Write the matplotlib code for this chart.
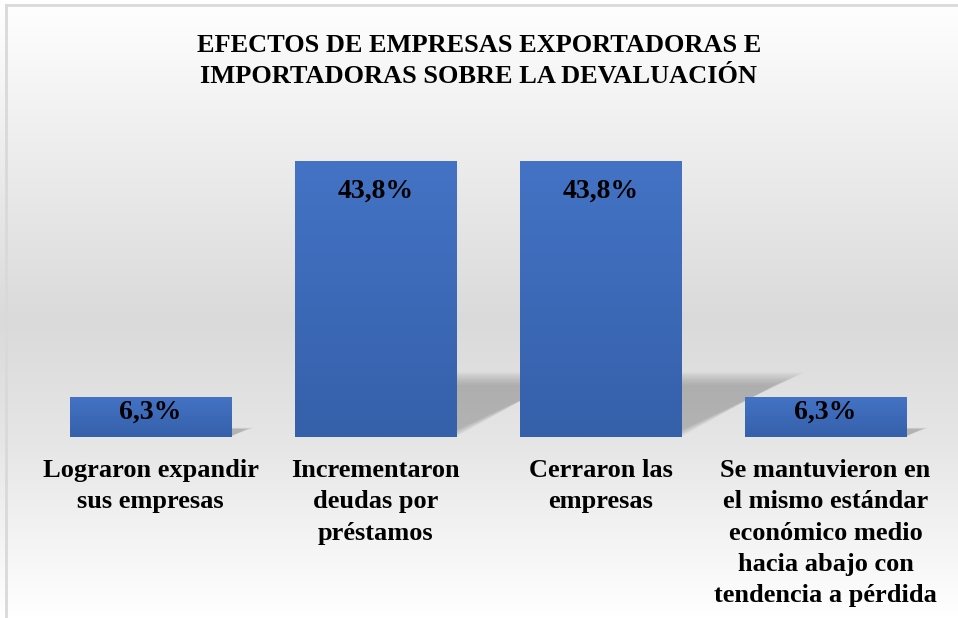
import matplotlib
matplotlib.use("Agg")
import matplotlib.pyplot as plt
import numpy as np
from matplotlib.colors import LinearSegmentedColormap
from matplotlib.patches import Polygon

titulo = "EFECTOS DE EMPRESAS EXPORTADORAS E\nIMPORTADORAS SOBRE LA DEVALUACIÓN"
categorias = ["Lograron expandir\nsus empresas",
              "Incrementaron\ndeudas por\npréstamos",
              "Cerraron las\nempresas",
              "Se mantuvieron en\nel mismo estándar\neconómico medio\nhacia abajo con\ntendencia a pérdida"]
valores = [6.3, 43.8, 43.8, 6.3]
etiquetas = ["6,3%", "43,8%", "43,8%", "6,3%"]

plt.rcParams['font.family'] = ['Liberation Serif', 'DejaVu Serif']
plt.rcParams['font.weight'] = 'bold'

fig = plt.figure(figsize=(9.58, 6.18), dpi=100)

# fondo degradado
bg = fig.add_axes([0, 0, 1, 1], zorder=0)
fondo = LinearSegmentedColormap.from_list(
    "fondo", [(0, "#ffffff"), (0.2, "#f0f0f0"), (0.52, "#dadada"),
              (0.72, "#e6e6e6"), (1, "#ffffff")])
grad = np.linspace(0, 1, 256).reshape(-1, 1)
bg.imshow(grad, aspect="auto", cmap=fondo, extent=[0, 1, 0, 1], origin="upper")
bg.plot([0.006, 0.006], [0, 0.992], color="#d9d9d9", lw=2)
bg.plot([0.006, 1], [0.992, 0.992], color="#d9d9d9", lw=2)
bg.set_xlim(0, 1)
bg.set_ylim(0, 1)
bg.axis('off')

ax = fig.add_axes([0.0397, 0.2929, 0.9395, 0.5097], zorder=1)
ax.patch.set_alpha(0)
x = np.arange(len(valores))
ancho = 0.716
barras = ax.bar(x, valores, width=ancho, color="#4472c4", zorder=3)

# degradado de las barras y sombra difusa
azul = LinearSegmentedColormap.from_list("azul", ["#4473c5", "#3560aa"])
for b in barras:
    x0, y0 = b.get_x(), b.get_y()
    w, h = b.get_width(), b.get_height()
    im = ax.imshow(grad, aspect="auto", cmap=azul, origin="upper",
                   extent=[x0, x0 + w, y0, y0 + h], zorder=3)
    im.set_clip_path(b)
    alto = h * 0.19
    dx = h * 0.0095
    for k in range(10):
        e = (0.012 * h / 43.8 + 0.003) * k
        ey = h * 0.005 * k
        sombra = Polygon([[x0 + 0.05, 0], [x0 + w - e * 0.5, 0],
                          [x0 + w + dx + e, alto + ey], [x0 + dx, alto + ey]],
                         closed=True, facecolor="#707070", alpha=0.05,
                         edgecolor="none", zorder=2)
        ax.add_patch(sombra)
ax.set_xlim(-0.5, 3.5)
ax.set_ylim(0, 50)
ax.axis('off')

for i, v in enumerate(valores):
    hpx = v / 50 * 315
    off = min(29, hpx * 0.36)
    ax.annotate(etiquetas[i], (x[i], v), xytext=(0, -(off + 1) * 0.72),
                textcoords="offset points", ha="center", va="center",
                fontsize=20, fontweight="bold", color="black", zorder=5)
    ax.text(x[i], -0.07, categorias[i], transform=ax.get_xaxis_transform(),
            ha="center", va="top", fontsize=19, fontweight="bold",
            linespacing=1.46, color="black")

fig.text(0.5, 0.902, titulo, ha="center", va="center", fontsize=19,
         fontweight="bold", linespacing=1.44, color="black")

fig.savefig("out.png", dpi=100)
